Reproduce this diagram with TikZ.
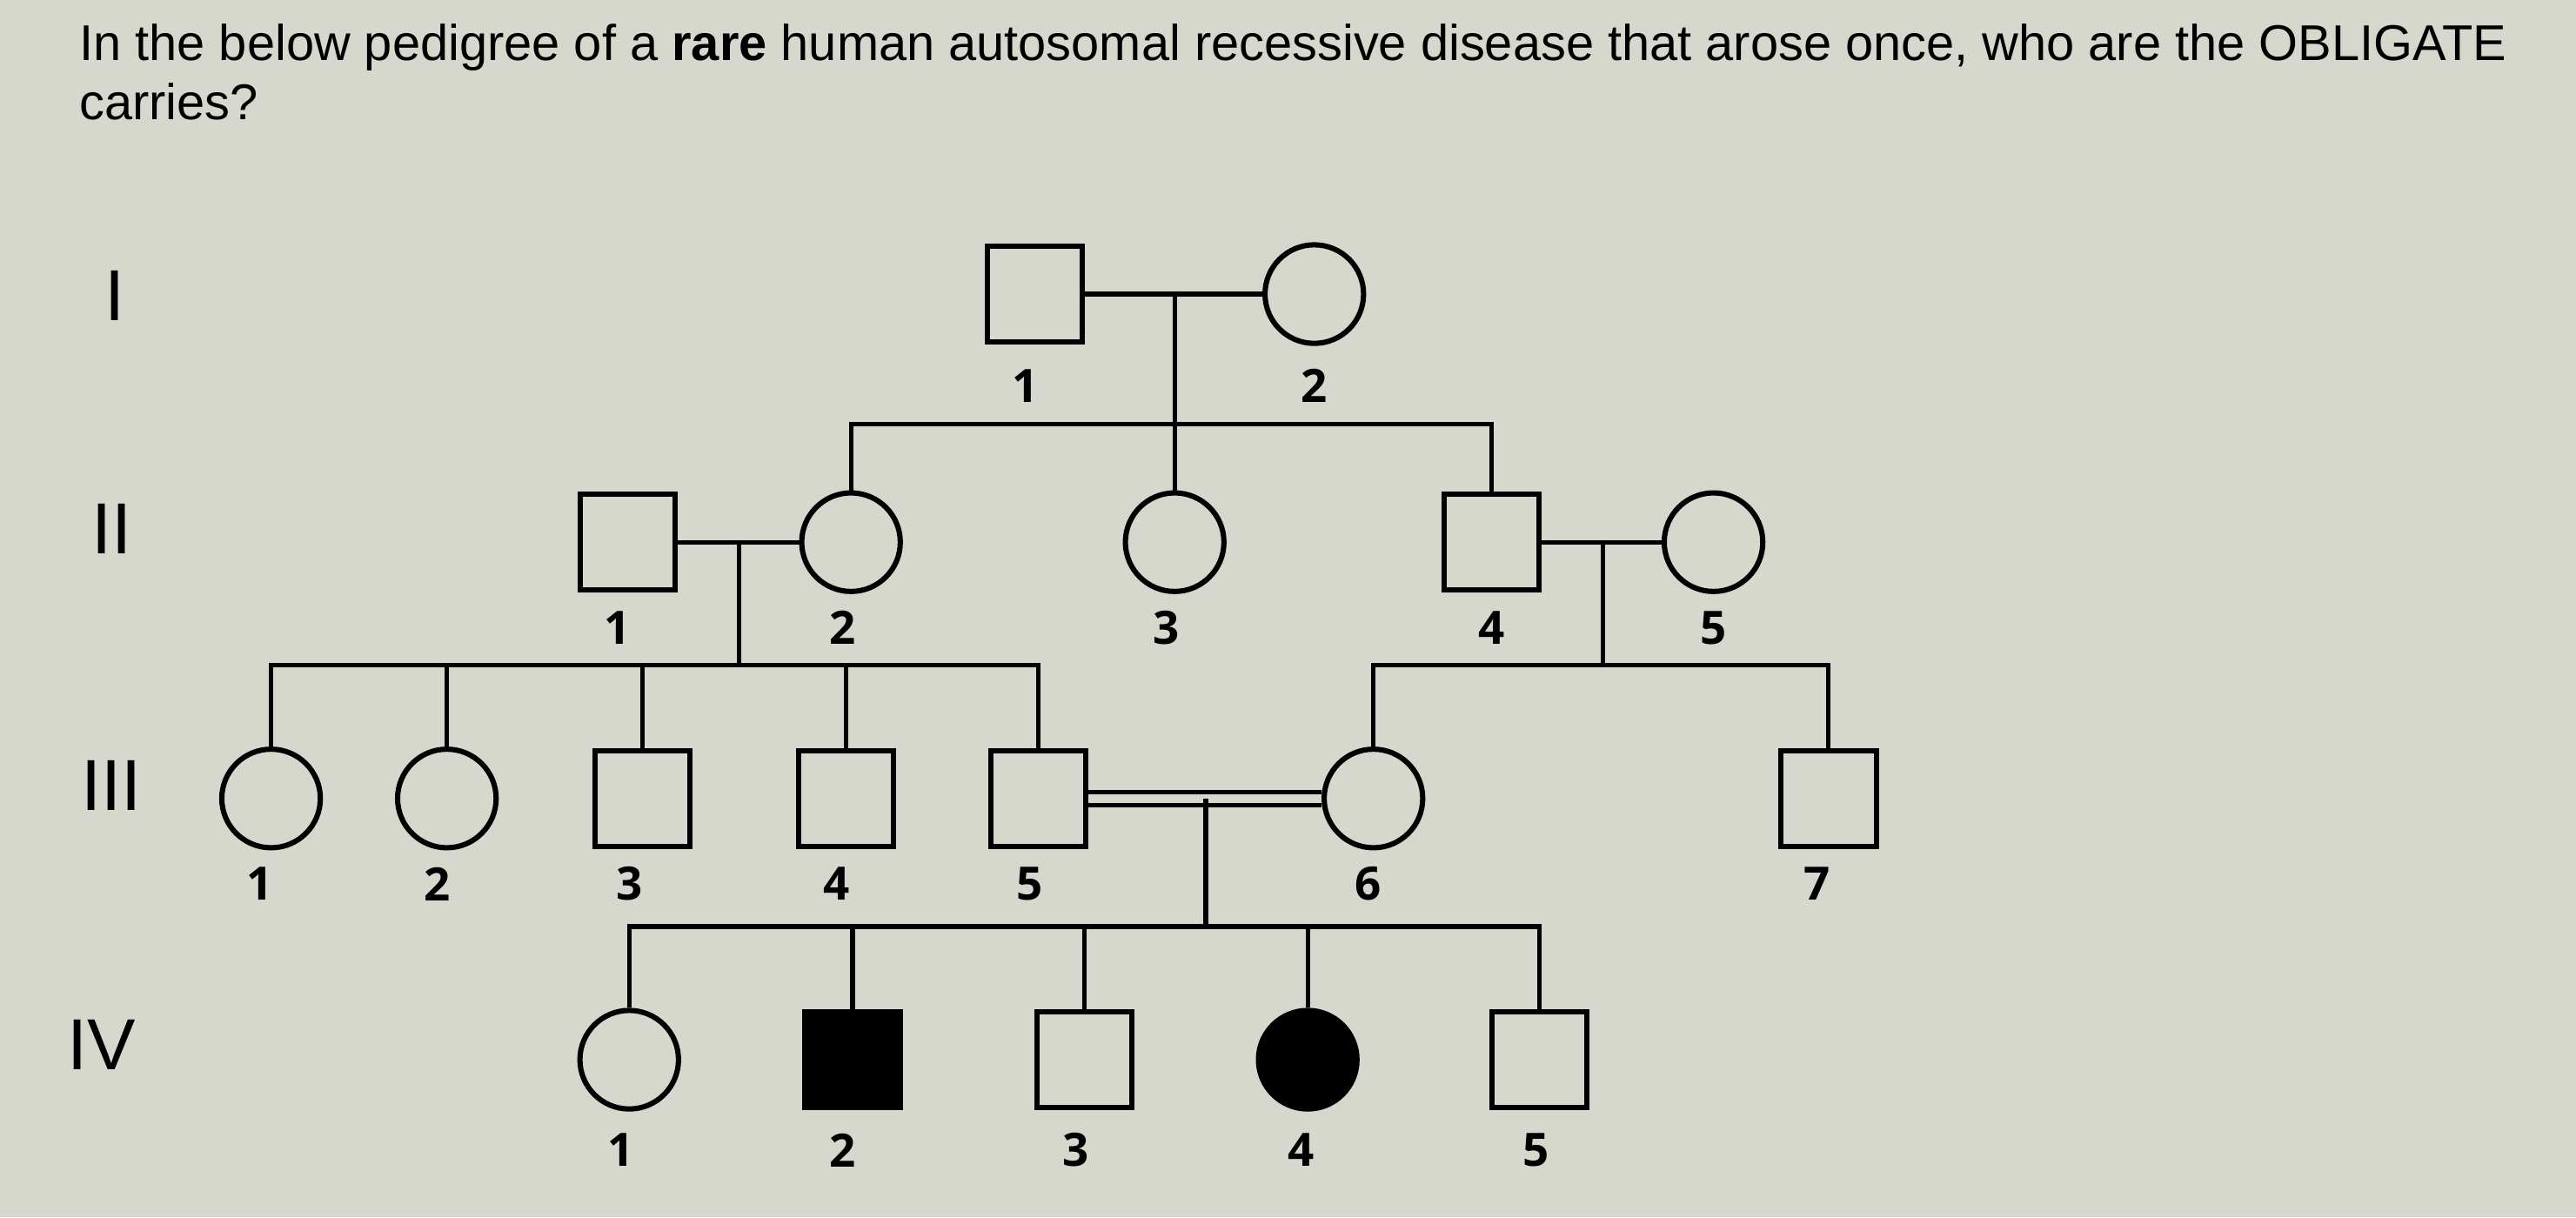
\documentclass[tikz,border=0pt]{standalone}
\usepackage{fontspec}
\setmainfont{Liberation Sans}
\newfontfamily\numfont{Open Sans}
\usetikzlibrary{calc}

\definecolor{screen}{RGB}{214,216,205}

\tikzset{
  male/.style={draw, rectangle, line width=1.6pt, minimum size=29pt, inner sep=0pt},
  female/.style={draw, circle, line width=1.6pt, minimum size=30pt, inner sep=0pt},
  affected/.style={fill=black},
  kin/.style={line width=1.4pt},
  idnum/.style={inner sep=0.75pt, font=\numfont\bfseries\fontsize{14}{14}\selectfont},
  genlbl/.style={inner sep=0.75pt, font=\fontsize{22}{22}\selectfont}
}

\begin{document}
\begin{tikzpicture}[x=0.5pt,y=0.5pt,yscale=-1,xscale=1]
%Background
\fill[screen] (0,0) rectangle (1568,741);
\useasboundingbox (0,0) rectangle (1568,741);

% Text Node
\node (question) [anchor=north west, inner sep=0pt, align=left, font=\fontsize{15.3}{18}\selectfont] at (48,14)
  {In the below pedigree of a \textbf{rare} human autosomal recessive disease that arose once, who are the OBLIGATE\\carries?};

% Generation labels
\node (genI) [genlbl] at (70,180) {I};
\node (genII) [genlbl] at (68,322) {II};
\node (genIII) [genlbl] at (68,478) {III};
\node (genIV) [genlbl] at (62,636) {IV};

%Generation I
\node (I1) [male] at (630,179) {};
\node (I2) [female] at (800,179) {};
\draw[kin] (I1) -- (I2);
\coordinate (mI) at ($(I1)!0.5!(I2)$);
\coordinate (sI) at (mI |- 0,258);

%Generation II
\node (II1) [male] at (382,330) {};
\node (II2) [female] at (518,330) {};
\node (II3) [female] at (715,330) {};
\node (II4) [male] at (908,330) {};
\node (II5) [female] at (1043,330) {};
\draw[kin] (mI) -- (II3.north);
\draw[kin] (II2.north) |- (sI) -| (II4.north);
\draw[kin] (II1) -- (II2);
\draw[kin] (II4) -- (II5);
\coordinate (mIIa) at ($(II1)!0.5!(II2)$);
\coordinate (mIIb) at ($(II4)!0.5!(II5)$);
\coordinate (sIIa) at (mIIa |- 0,405);
\coordinate (sIIb) at (mIIb |- 0,405);

%Generation III
\node (III1) [female] at (165,486) {};
\node (III2) [female] at (272,486) {};
\node (III3) [male] at (391,486) {};
\node (III4) [male] at (515,486) {};
\node (III5) [male] at (632,486) {};
\node (III6) [female] at (836,486) {};
\node (III7) [male] at (1113,486) {};
\draw[kin] (mIIa) -- (sIIa);
\draw[kin] (III1.north) |- (sIIa) -| (III5.north);
\draw[kin] (III2.north) -- (III2.north |- sIIa);
\draw[kin] (III3.north) -- (III3.north |- sIIa);
\draw[kin] (III4.north) -- (III4.north |- sIIa);
\draw[kin] (mIIb) -- (sIIb);
\draw[kin] (III6.north) |- (sIIb) -| (III7.north);
%Consanguineous mating
\draw[kin, double=screen, double distance=2.6pt] (III5) -- (III6);
\coordinate (mIII) at ($(III5)!0.5!(III6)$);
\coordinate (sIII) at (mIII |- 0,564);

%Generation IV
\node (IV1) [female] at (383,645) {};
\node (IV2) [male, affected] at (519,645) {};
\node (IV3) [male] at (660,645) {};
\node (IV4) [female, affected] at (796,645) {};
\node (IV5) [male] at (937,645) {};
\draw[kin] (mIII) -- (sIII);
\draw[kin] (IV1.north) |- (sIII) -| (IV5.north);
\draw[kin] (IV2.north) -- (IV2.north |- sIII);
\draw[kin] (IV3.north) -- (IV3.north |- sIII);
\draw[kin] (IV4.north) -- (IV4.north |- sIII);

% Text Node
\node (nI1) [idnum] at (624,235) {1};
\node (nI2) [idnum] at (800,235) {2};
\node (nII1) [idnum] at (376,382) {1};
\node (nII2) [idnum] at (513,382) {2};
\node (nII3) [idnum] at (710,382) {3};
\node (nII4) [idnum] at (908,382) {4};
\node (nII5) [idnum] at (1043,382) {5};
\node (nIII1) [idnum] at (158,538) {1};
\node (nIII2) [idnum] at (266,538) {2};
\node (nIII3) [idnum] at (383,538) {3};
\node (nIII4) [idnum] at (509,538) {4};
\node (nIII5) [idnum] at (627,538) {5};
\node (nIII6) [idnum] at (833,538) {6};
\node (nIII7) [idnum] at (1106,538) {7};
\node (nIV1) [idnum] at (378,700) {1};
\node (nIV2) [idnum] at (513,700) {2};
\node (nIV3) [idnum] at (655,700) {3};
\node (nIV4) [idnum] at (792,700) {4};
\node (nIV5) [idnum] at (935,700) {5};

\end{tikzpicture}
\end{document}
